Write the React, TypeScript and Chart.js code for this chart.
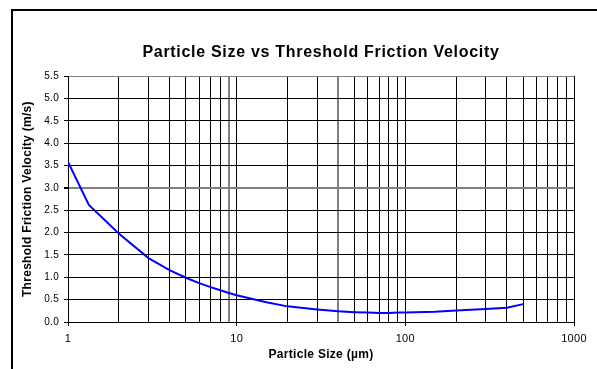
import React, { useEffect, useRef } from 'react';
import { Chart, registerables } from 'chart.js';

Chart.register(...registerables);

// ---- Data ----
const particleSizes = [1, 1.33, 2, 3, 4, 5, 6, 7, 8, 9, 10, 15, 20, 30, 40, 50, 60, 70, 80, 90, 100, 150, 200, 300, 400, 500];
const frictionVelocity = [3.58, 2.62, 1.98, 1.43, 1.16, 0.99, 0.87, 0.78, 0.71, 0.65, 0.6, 0.44, 0.35, 0.28, 0.24, 0.22, 0.21, 0.2, 0.2, 0.21, 0.21, 0.23, 0.26, 0.29, 0.32, 0.4];
const xTickValues = [1, 2, 3, 4, 5, 6, 7, 8, 9, 10, 20, 30, 40, 50, 60, 70, 80, 90, 100, 200, 300, 400, 500, 600, 700, 800, 900, 1000];
const xLabelValues = [1, 10, 100, 1000];
const grayXLines = [9, 40];
const grayYLines = [3, 5.5];
const yMin = 0;
const yMax = 5.5;
const yStep = 0.5;

const chartTitle = 'Particle Size vs Threshold Friction Velocity';
const xTitle = 'Particle Size (\u00b5m)';
const yTitle = 'Threshold Friction Velocity (m/s)';

const FONT = "'Liberation Sans', Arial, sans-serif";

const framePlugin = {
  id: 'frame',
  beforeDraw(chart: any) {
    const ctx = chart.ctx;
    ctx.save();
    ctx.fillStyle = '#ffffff';
    ctx.fillRect(0, 0, chart.width, chart.height);
    ctx.strokeStyle = '#000000';
    ctx.lineWidth = 2;
    ctx.strokeRect(12, 10, 800, 800);
    ctx.restore();
    ctx.letterSpacing = '0.3px';
  },
  afterLayout(chart: any) {
    const tb = chart.titleBlock;
    if (tb && !tb.__spaced) {
      const orig = tb.draw;
      tb.draw = function (...args: any[]) {
        const ctx = this.ctx;
        ctx.save();
        ctx.letterSpacing = '0.7px';
        orig.apply(this, args);
        ctx.restore();
      };
      tb.__spaced = true;
    }
  },
};

export default function App() {
  const canvasRef = useRef<HTMLCanvasElement | null>(null);

  useEffect(() => {
    if (!canvasRef.current) return;
    const chart = new Chart(canvasRef.current, {
      type: 'line',
      data: {
        datasets: [
          {
            data: particleSizes.map((x, i) => ({ x, y: frictionVelocity[i] })),
            borderColor: '#0000ff',
            borderWidth: 2,
            pointRadius: 0,
            tension: 0,
            fill: false,
          },
        ],
      },
      options: {
        responsive: false,
        animation: false,
        devicePixelRatio: 1,
        layout: { padding: { left: 14, right: 23, top: 0, bottom: 0 } },
        plugins: {
          legend: { display: false },
          tooltip: { enabled: false },
          title: {
            display: true,
            text: chartTitle,
            fullSize: false,
            color: '#000',
            font: { family: FONT, size: 16, weight: 'bold' },
            padding: { top: 43, bottom: 14 },
          },
        },
        scales: {
          x: {
            type: 'logarithmic',
            min: 1,
            max: 1000,
            afterBuildTicks: (scale: any) => {
              scale.ticks = xTickValues.map((v) => ({ value: v }));
            },
            afterFit: (scale: any) => {
              scale.height = 47;
            },
            ticks: {
              autoSkip: false,
              maxRotation: 0,
              minRotation: 0,
              padding: 6,
              color: '#000',
              font: { family: FONT, size: 11 },
              callback: (v: any) => (xLabelValues.includes(Number(v)) ? String(v) : ''),
            },
            grid: {
              color: (c: any) => (grayXLines.includes(c.tick?.value) ? '#808080' : '#000000'),
              lineWidth: (c: any) => (grayXLines.includes(c.tick?.value) ? 2 : 1),
              tickColor: (c: any) => (xLabelValues.includes(c.tick?.value) ? '#000000' : 'rgba(0,0,0,0)'),
              tickLength: 4,
            },
            border: { display: true, color: '#000', width: 1 },
            title: {
              display: true,
              text: xTitle,
              color: '#000',
              font: { family: FONT, size: 12, weight: 'bold' },
              padding: { top: 0, bottom: 7 },
            },
          },
          y: {
            type: 'linear',
            min: yMin,
            max: yMax,
            afterFit: (scale: any) => {
              scale.width = 54;
            },
            ticks: {
              stepSize: yStep,
              padding: 5,
              color: '#000',
              font: { family: FONT, size: 10 },
              callback: (v: any) => Number(v).toFixed(1),
            },
            grid: {
              color: (c: any) => (grayYLines.includes(c.tick?.value) ? '#808080' : '#000000'),
              lineWidth: (c: any) => (c.tick?.value === 3 ? 2 : 1),
              tickColor: '#000000',
              tickLength: 4,
            },
            border: { display: true, color: '#000', width: 1 },
            title: {
              display: true,
              text: yTitle,
              color: '#000',
              font: { family: FONT, size: 12, weight: 'bold' },
              padding: { top: 6, bottom: 0 },
            },
          },
        },
      },
      plugins: [framePlugin],
    } as any);
    return () => chart.destroy();
  }, []);

  return (
    <div style={{ position: 'fixed', left: 0, top: 0, width: 597, height: 369, background: '#fff' }}>
      <canvas ref={canvasRef} width={597} height={369} style={{ display: 'block', width: 597, height: 369 }} />
    </div>
  );
}
